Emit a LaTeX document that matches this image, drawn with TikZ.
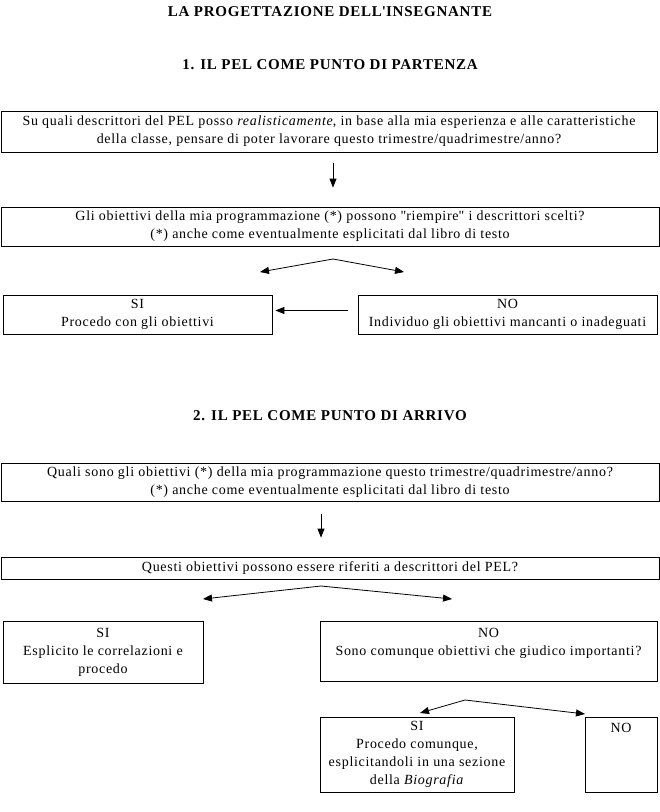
\documentclass[tikz,border=0pt]{standalone}
\usepackage{fontspec}
\setmainfont{Liberation Serif}[LetterSpace=5]
\usetikzlibrary{arrows.meta, positioning}

\begin{document}
\begin{tikzpicture}[x=1pt, y=-1pt,
  box/.style={draw, line width=0.8pt, inner sep=0pt, align=center, font=\fontsize{14}{18}\selectfont},
  head/.style={font=\bfseries\fontsize{15}{16}\selectfont},
  arrow/.style={-{Triangle[length=9pt, width=7pt]}, line width=0.8pt}]
\useasboundingbox (0,0) rectangle (660,812);
% titoli
\node[head] (title) at (330,12) {LA PROGETTAZIONE DELL\textquotesingle INSEGNANTE};
\node[head] (part1) at (330,65) {1. IL PEL COME PUNTO DI PARTENZA};
\node[head] (part2) at (330,416) {2. IL PEL COME PUNTO DI ARRIVO};
% parte 1
\node[box, minimum width=656, minimum height=41] (descr) at (329,131.5) {Su quali descrittori del PEL posso \textit{realisticamente}, in base alla mia esperienza e alle caratteristiche\\della classe, pensare di poter lavorare questo trimestre/quadrimestre/anno?};
\node[box, minimum width=658, minimum height=39] (obiett) at (330,226.5) {Gli obiettivi della mia programmazione (*) possono \textquotedbl riempire\textquotedbl{} i descrittori scelti?\\(*) anche come eventualmente esplicitati dal libro di testo};
\node[box, minimum width=269, minimum height=39] (si1) at (137.5,314.5) {SI\\Procedo con gli obiettivi};
\node[box, minimum width=299, minimum height=39] (no1) at (507.5,314.5) {NO\\Individuo gli obiettivi mancanti o inadeguati};
\coordinate (fork1) at (333,259);
\coordinate (fork1l) at (260,272);
\coordinate (fork1r) at (404,272);
\draw[arrow, shorten <=11pt, shorten >=19pt] (descr.south -| fork1) -- (obiett.north -| fork1);
\draw[arrow] (fork1) -- (fork1l);
\draw[arrow] (fork1) -- (fork1r);
\draw[arrow, shorten <=10pt, shorten >=3pt] ([yshift=4pt]no1.west) -- ([yshift=4pt]si1.east);
% parte 2
\node[box, minimum width=658, minimum height=38] (quali) at (330,482) {Quali sono gli obiettivi (*) della mia programmazione questo trimestre/quadrimestre/anno?\\(*) anche come eventualmente esplicitati dal libro di testo};
\node[box, minimum width=658, minimum height=22] (rifer) at (330,568) {Questi obiettivi possono essere riferiti a descrittori del PEL?};
\node[box, minimum width=200, minimum height=62] (si2) at (103,652) {SI\\Esplicito le correlazioni e\\procedo};
\node[box, minimum width=337, minimum height=60] (no2) at (488.5,651) {NO\\Sono comunque obiettivi che giudico importanti?\\\mbox{}};
\node[box, minimum width=194, minimum height=75] (si3) at (417,754.5) {SI\\Procedo comunque,\\esplicitandoli in una sezione\\della \textit{Biografia}};
\node[box, minimum width=72, minimum height=75] (no3) at (621,754.5) {NO\\\mbox{}\\\mbox{}\\\mbox{}};
\coordinate (fork2) at (321,586);
\coordinate (fork2l) at (203,599);
\coordinate (fork2r) at (452,599);
\coordinate (fork3) at (465,700);
\coordinate (fork3l) at (420,713);
\coordinate (fork3r) at (585,714);
\draw[arrow, shorten <=13pt, shorten >=19pt] (quali.south -| fork2) -- (rifer.north -| fork2);
\draw[arrow] (fork2) -- (fork2l);
\draw[arrow] (fork2) -- (fork2r);
\draw[arrow] (fork3) -- (fork3l);
\draw[arrow] (fork3) -- (fork3r);
\end{tikzpicture}
\end{document}
